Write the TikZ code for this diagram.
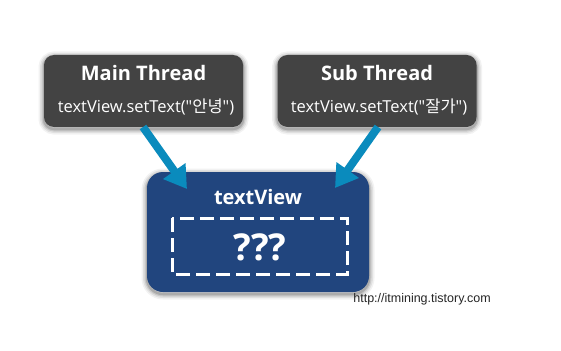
\documentclass[tikz,border=0pt]{standalone}
\usepackage{fontspec}
\setmainfont{Open Sans}[Ligatures=TeXOff]
\newfontfamily\cjk{Noto Sans CJK KR}
\newfontfamily\wm{Liberation Sans}
\usetikzlibrary{arrows.meta}
\definecolor{thread}{HTML}{434343}
\definecolor{tvblue}{HTML}{21457E}
\definecolor{arrowblue}{HTML}{0A8BBD}
\tikzset{
  softshadow/.style={
    preaction={draw=black, line width=11pt, draw opacity=0.05, transform canvas={yshift=-2pt}},
    preaction={draw=black, line width=8pt, draw opacity=0.07, transform canvas={yshift=-2pt}},
    preaction={draw=black, line width=5pt, draw opacity=0.10, transform canvas={yshift=-2pt}},
    preaction={draw=black, line width=2.5pt, draw opacity=0.15, transform canvas={yshift=-2pt}}},
  threadbox/.style={fill=thread, rounded corners=10pt, minimum width=199pt, minimum height=72pt, softshadow},
  tvbox/.style={fill=tvblue, rounded corners=16pt, minimum width=222pt, minimum height=120pt, softshadow},
  label/.style={text=white, inner sep=0pt},
  conn/.style={draw=arrowblue, line width=8pt, -{Triangle[width=26pt,length=22pt]}},
}
\begin{document}
\begin{tikzpicture}[x=1pt,y=-1pt]
\useasboundingbox[fill=white] (0,0) rectangle (561,350);
\node[threadbox] (main) at (143.5,91) {};
\node[threadbox] (sub) at (377,91) {};
\node[tvbox] (tv) at (258,232) {};
\node[label, font=\fontsize{20}{24}\selectfont\bfseries] (mt) at (143.5,73) {Main Thread};
\node[label, font=\fontsize{16.5}{19}\selectfont] (mc) at (146,107) {textView.setText("{\cjk 안녕}")};
\node[label, font=\fontsize{20}{24}\selectfont\bfseries] (st) at (377,73) {Sub Thread};
\node[label, font=\fontsize{16.5}{19}\selectfont] (sc) at (379,107) {textView.setText("{\cjk 잘가}")};
\node[label, font=\fontsize{20}{24}\selectfont\bfseries] (tvt) at (258,197) {textView};
\draw[white, line width=3pt, dash pattern=on 14pt off 6pt] (172,218) rectangle (347,274);
\node[label, font=\fontsize{37}{40}\selectfont\bfseries] (q) at (260,247) {???};
\node[inner sep=0pt, font=\wm\fontsize{12.5}{14}\selectfont, text=black!85] (w) at (422,299) {http://itmining.tistory.com};
\coordinate (a1) at (143,127);
\coordinate (a1e) at (187,189);
\coordinate (a2) at (378,127);
\coordinate (a2e) at (335,188);
\draw[conn] (a1) -- (a1e);
\draw[conn] (a2) -- (a2e);
\end{tikzpicture}
\end{document}
